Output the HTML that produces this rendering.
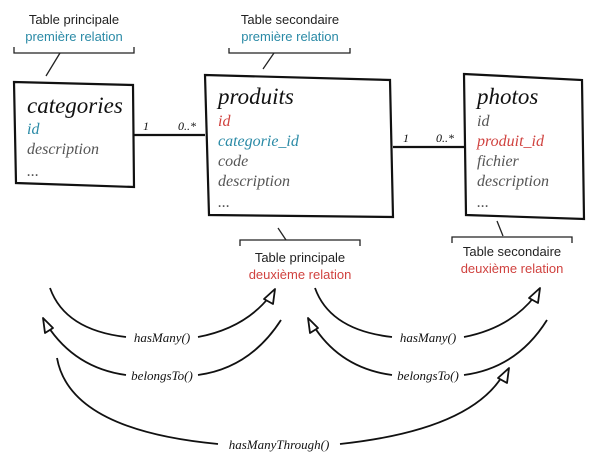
<!DOCTYPE html>
<html><head><meta charset="utf-8"><style>
html,body{margin:0;padding:0;background:#fff;}
svg{display:block;}
.lbl{font-family:"Liberation Sans",sans-serif;font-size:13px;text-anchor:middle;}
.hw{font-family:"Liberation Serif",serif;font-style:italic;}
</style></head><body>
<svg width="600" height="466" viewBox="0 0 600 466" xmlns="http://www.w3.org/2000/svg">
<g fill="none" stroke="#222" stroke-width="1.3">
<path d="M14 47 V53 H134 V47"/><path d="M60 53 L46 76"/>
<path d="M229 48 V53 H350 V48"/><path d="M274 53 L263 69"/>
<path d="M240 246 V240 H360 V246"/><path d="M286 240 L278 228"/>
<path d="M452 243 V237 H572 V243"/><path d="M497 221 L503 236"/>
</g>
<g fill="#fff" stroke="#111" stroke-width="2.2">
<path d="M14 82 L133 85 L134 187 L16 183 Z"/>
<path d="M205 75 L390 80 L393 217 L209 215 Z"/>
<path d="M464 74 L582 80 L584 219 L466 215 Z"/>
</g>
<g stroke="#111" stroke-width="2.2">
<line x1="134" y1="135" x2="205" y2="135"/>
<line x1="393" y1="147" x2="466" y2="147"/>
</g>
<g class="lbl">
<text x="74" y="24" fill="#222">Table principale</text>
<text x="74" y="41" fill="#2a8aa6">première relation</text>
<text x="290" y="24" fill="#222">Table secondaire</text>
<text x="290" y="41" fill="#2a8aa6">première relation</text>
<text x="300" y="262" fill="#222">Table principale</text>
<text x="300" y="279" fill="#d0423f">deuxième relation</text>
<text x="512" y="256" fill="#222">Table secondaire</text>
<text x="512" y="273" fill="#d0423f">deuxième relation</text>
</g>
<g class="hw">
<text x="143" y="130" font-size="12" fill="#111">1</text>
<text x="178" y="130" font-size="12" fill="#111">0..*</text>
<text x="403" y="142" font-size="12" fill="#111">1</text>
<text x="436" y="142" font-size="12" fill="#111">0..*</text>
<text x="27" y="113" font-size="23" fill="#111">categories</text>
<text x="27" y="134" font-size="16" fill="#2a8aa6">id</text>
<text x="27" y="154" font-size="16" fill="#555">description</text>
<text x="27" y="176" font-size="16" fill="#555">...</text>
<text x="218" y="104" font-size="23" fill="#111">produits</text>
<text x="218" y="126" font-size="16" fill="#d0423f">id</text>
<text x="218" y="146" font-size="16" fill="#2a8aa6">categorie_id</text>
<text x="218" y="166" font-size="16" fill="#555">code</text>
<text x="218" y="186" font-size="16" fill="#555">description</text>
<text x="218" y="207" font-size="16" fill="#555">...</text>
<text x="477" y="104" font-size="23" fill="#111">photos</text>
<text x="477" y="126" font-size="16" fill="#555">id</text>
<text x="477" y="146" font-size="16" fill="#d0423f">produit_id</text>
<text x="477" y="166" font-size="16" fill="#555">fichier</text>
<text x="477" y="186" font-size="16" fill="#555">description</text>
<text x="477" y="207" font-size="16" fill="#555">...</text>
</g>
<g fill="none" stroke="#111" stroke-width="1.8">
<path d="M50 288 Q65 330 126 337"/><path d="M198 337 Q245 328 270 296"/>
<path d="M281 320 Q250 368 198 375"/><path d="M126 375 Q75 368 47 325"/>
<path d="M57 358 Q70 430 218 444"/><path d="M340 444 Q470 430 503 375"/>
<path d="M315 288 Q330 330 392 337"/><path d="M464 337 Q510 328 535 296"/>
<path d="M547 320 Q517 368 464 375"/><path d="M392 375 Q340 368 313 325"/>
</g>
<g fill="#fff" stroke="#111" stroke-width="1.8" stroke-linejoin="round">
<path d="M275 289 L264 299 L273 304 Z"/>
<path d="M540 288 L529 298 L538 303 Z"/>
<path d="M43 318 L45 333 L53 328 Z"/>
<path d="M308 318 L310 333 L318 328 Z"/>
<path d="M509 368 L498 378 L507 383 Z"/>
</g>
<g class="hw" font-size="13" fill="#111" text-anchor="middle">
<text x="162" y="342">hasMany()</text>
<text x="162" y="380">belongsTo()</text>
<text x="428" y="342">hasMany()</text>
<text x="428" y="380">belongsTo()</text>
<text x="279" y="449">hasManyThrough()</text>
</g>
</svg>
</body></html>
